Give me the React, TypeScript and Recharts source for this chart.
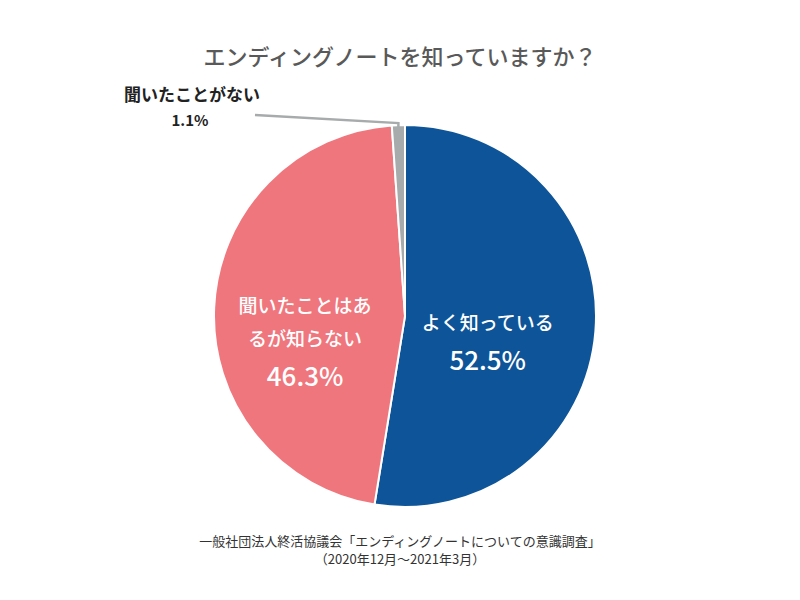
import { PieChart, Pie, Cell } from 'recharts';

const names = ['よく知っている', '聞いたことはあるが知らない', '聞いたことがない'];
const values = [52.5, 46.3, 1.1];
const colors = ['#0E5498', '#F0767D', '#A7ABAC'];
const labelLines = [['よく知っている'], ['聞いたことはあ', 'るが知らない'], ['聞いたことがない']];

const data = names.map((name, i) => ({ name, value: values[i] }));

const FONT = '"Noto Sans CJK JP", "Noto Sans", sans-serif';
const RAD = Math.PI / 180;

const renderLabel = (props: any) => {
    const { cx, cy, midAngle, outerRadius, index } = props;
    const pct = `${values[index].toFixed(1)}%`;
    if (index === 2) {
        // small slice: label outside with a leader line
        const ex = cx + outerRadius * Math.cos(-midAngle * RAD);
        const ey = cy + outerRadius * Math.sin(-midAngle * RAD);
        return (
            <g>
                <polyline points={`${ex},${ey + 3} ${ex},${ey - 2} 255,115`} fill="none" stroke="#A7ABAC" strokeWidth={2.5} />
                <text x={192} y={101} textAnchor="middle" fontSize={17} fontWeight={700} fill="#222" fontFamily={FONT}>{labelLines[2][0]}</text>
                <text x={190} y={126} textAnchor="middle" fontSize={15} fontWeight={700} fill="#222" fontFamily={FONT}>{pct}</text>
            </g>
        );
    }
    const r = index === 0 ? 83 : 100;
    const x = cx + r * Math.cos(-midAngle * RAD);
    const y = cy + r * Math.sin(-midAngle * RAD);
    const lines = labelLines[index];
    const lineOffsets = index === 0 ? [7] : [2, 35];
    const pctOffset = index === 0 ? 47 : 75;
    return (
        <g fontFamily={FONT} fill="#fff" textAnchor="middle">
            {lines.map((t, i) => (
                <text key={i} x={x} y={y + lineOffsets[i]} fontSize={19} fontWeight={500}>{t}</text>
            ))}
            <text x={x} y={y + pctOffset} fontSize={26} fontWeight={500}>{pct}</text>
        </g>
    );
};

export default function App() {
    return (
        <div style={{ position: 'absolute', left: 0, top: 0, width: 800, height: 600, background: '#fff' }}>
            <PieChart width={800} height={600}>
                <text x={400} y={65} textAnchor="middle" fontSize={22} fontWeight={500} fill="#595959" fontFamily={FONT}>
                    エンディングノートを知っていますか？
                </text>
                <Pie
                    data={data}
                    dataKey="value"
                    nameKey="name"
                    cx={400}
                    cy={311}
                    outerRadius={191}
                    startAngle={90}
                    endAngle={-270}
                    stroke="#fff"
                    strokeWidth={2}
                    label={renderLabel}
                    labelLine={false}
                    isAnimationActive={false}
                >
                    {data.map((_, i) => (
                        <Cell key={i} fill={colors[i]} />
                    ))}
                </Pie>
                <text x={400} y={546} textAnchor="middle" fontSize={13} fill="#333" fontFamily={FONT}>
                    一般社団法人終活協議会「エンディングノートについての意識調査」
                </text>
                <text x={400} y={564} textAnchor="middle" fontSize={13} fill="#333" fontFamily={FONT}>
                    （2020年12月～2021年3月）
                </text>
            </PieChart>
        </div>
    );
}
